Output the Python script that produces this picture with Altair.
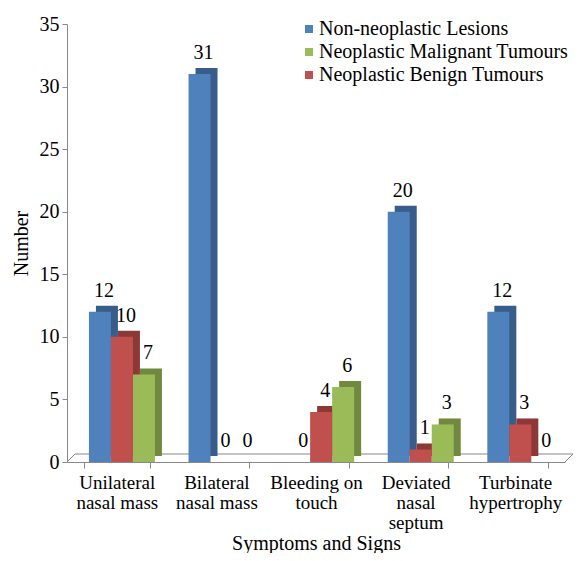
import altair as alt
import pandas as pd

categories = ["Unilateral\nnasal mass", "Bilateral\nnasal mass", "Bleeding on\ntouch",
              "Deviated\nnasal\nseptum", "Turbinate\nhypertrophy"]
series = ["Non-neoplastic Lesions", "Neoplastic  Malignant Tumours", "Neoplastic  Benign Tumours"]
non_neoplastic = [12, 31, 0, 20, 12]
malignant = [7, 0, 6, 3, 0]
benign = [10, 0, 4, 1, 3]

colors = ["#4F81BD", "#9BBB59", "#C0504D"]
dark_colors = ["#385D8A", "#71893F", "#8C3836"]
bar_order = [series[0], series[2], series[1]]

rows = []
for s, vals in zip(series, [non_neoplastic, malignant, benign]):
    for c, v in zip(categories, vals):
        rows.append({"cat": c, "series": s, "value": v})
df = pd.DataFrame(rows)

FONT = "Liberation Serif, Times New Roman, serif"
FS = 20
GRAY = "#898989"

x = alt.X("cat:N", sort=categories, title="Symptoms and Signs",
          scale=alt.Scale(paddingInner=0.34, paddingOuter=0.17),
          axis=alt.Axis(labelExpr="isValid(datum.value) ? split(datum.value, '\\n') : ''",
                        labelAngle=0, tickBand="extent", domainColor=GRAY,
                        tickColor=GRAY, tickSize=6, labelFont=FONT, labelFontSize=19,
                        labelColor="black", labelFontWeight="normal", labelLineHeight=20,
                        labelPadding=5, titleFont=FONT, titleFontSize=FS,
                        titleFontWeight="normal", titleColor="black", titlePadding=1))
y = alt.Y("value:Q", title="Number",
          scale=alt.Scale(domain=[0, 35], nice=False),
          axis=alt.Axis(values=list(range(0, 36, 5)), grid=False, domainColor=GRAY,
                        tickColor=GRAY, tickSize=5, labelFont=FONT, labelFontSize=FS,
                        labelColor="black", labelPadding=3, titleFont=FONT, titleFontSize=FS,
                        titleFontWeight="normal", titleColor="black", titlePadding=8))

front_xo = alt.XOffset("series:N", sort=bar_order,
                       scale=alt.Scale(type="band", paddingInner=0, paddingOuter=0, range=[5, 71]))
side_xo = alt.XOffset("series:N", sort=bar_order,
                      scale=alt.Scale(type="band", paddingInner=0, paddingOuter=0, range=[12, 78]))
label_xo = alt.XOffset("series:N", sort=bar_order,
                       scale=alt.Scale(type="point", padding=0, range=[16, 60]))

base = alt.Chart(df)

# 3D floor outline (decoration)
floor_df = pd.DataFrame({"k": [0]})
floor_back = alt.Chart(floor_df).mark_rule(color=GRAY, strokeWidth=1).encode(
    x=alt.value(8), x2=alt.value({"expr": "width + 8"}),
    y=alt.value({"expr": "height - 8"}),
)
floor_left = alt.Chart(floor_df).mark_rule(color=GRAY, strokeWidth=1).encode(
    x=alt.value(0), x2=alt.value(8),
    y=alt.value({"expr": "height"}), y2=alt.value({"expr": "height - 8"}),
)
floor_right = alt.Chart(floor_df).mark_rule(color=GRAY, strokeWidth=1).encode(
    x=alt.value({"expr": "width"}), x2=alt.value({"expr": "width + 8"}),
    y=alt.value({"expr": "height"}), y2=alt.value({"expr": "height - 8"}),
)

side = base.mark_bar(yOffset=-6).encode(
    x=x, xOffset=side_xo, y=y,
    color=alt.Color("series:N", scale=alt.Scale(domain=series, range=dark_colors), legend=None),
)

front = base.mark_bar().encode(
    x=x, xOffset=front_xo, y=y,
    color=alt.Color("series:N", scale=alt.Scale(domain=series, range=colors),
                    legend=alt.Legend(title=None, orient="none", legendX=232, legendY=-5,
                                      symbolType="square", symbolSize=64, symbolStrokeWidth=0,
                                      labelFont=FONT, labelFontSize=FS, labelColor="black",
                                      rowPadding=3, labelLimit=400, labelOffset=0)),
)

labels = base.mark_text(dy=-21, dx=4, font=FONT, fontSize=FS, color="black").encode(
    x=x, xOffset=label_xo, y=y, text="value:Q",
)

chart = alt.layer(floor_back, floor_left, floor_right, side, front, labels).resolve_scale(
    color="independent", xOffset="independent"
).properties(
    width=566, height=545,
    autosize=alt.AutoSizeParams(type="fit", contains="padding"),
    padding={"top": 6, "left": 3, "right": 0, "bottom": 0}
).configure_view(stroke=None)

chart.save("out.html", embed_options={"renderer": "svg", "actions": False})
